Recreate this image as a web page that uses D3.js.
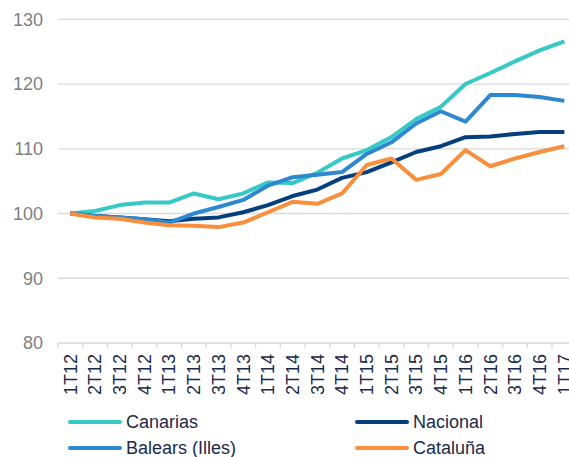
<!DOCTYPE html>
<html>
<head>
<meta charset="utf-8">
<script src="https://cdn.jsdelivr.net/npm/d3@7"></script>
<style>
  body { margin: 0; background: #fff; }
  svg { font-family: "Liberation Sans", Arial, sans-serif; display: block; }
</style>
</head>
<body>
<div id="chart"></div>
<script>
// quarters
var quarters = ["1T12", "2T12", "3T12", "4T12", "1T13", "2T13", "3T13", "4T13",
    "1T14", "2T14", "3T14", "4T14", "1T15", "2T15", "3T15", "4T15",
    "1T16", "2T16", "3T16", "4T16", "1T17"];

var canarias = [100, 100.4, 101.3, 101.7, 101.7, 103.1, 102.2, 103.1, 104.8, 104.7, 106.3,
    108.5, 109.8, 111.8, 114.6, 116.5, 120.0, 121.7, 123.5, 125.2, 126.6];
var nacional = [100, 99.6, 99.4, 99.1, 98.8, 99.2, 99.4, 100.2, 101.3, 102.7, 103.7,
    105.5, 106.4, 107.9, 109.5, 110.4, 111.8, 111.9, 112.3, 112.6, 112.6];
var baleares = [100, 99.6, 99.4, 99.1, 98.6, 100.0, 101.0, 102.1, 104.3, 105.6, 106.0,
    106.4, 109.2, 111.0, 113.9, 115.8, 114.2, 118.3, 118.3, 118.0, 117.4];
var cataluna = [100, 99.4, 99.2, 98.6, 98.2, 98.1, 97.9, 98.6, 100.2, 101.8, 101.5,
    103.1, 107.5, 108.5, 105.2, 106.1, 109.8, 107.3, 108.5, 109.5, 110.4];

var yTicks = [80, 90, 100, 110, 120, 130];

var series = [
    { name: "Canarias", values: canarias, color: "#36c9c6" },
    { name: "Nacional", values: nacional, color: "#063f7e" },
    { name: "Balears (Illes)", values: baleares, color: "#2d88d0" },
    { name: "Cataluña", values: cataluna, color: "#f98e3d" }
];

var width = 569, height = 457;
var left = 58;

var svg = d3.select("#chart").append("svg")
    .attr("width", width)
    .attr("height", height);

// scales
var xScale = d3.scaleBand().domain(quarters).range([left, left + 24.7 * quarters.length]);
var yScale = d3.scaleLinear().domain([80, 130]).range([343, 19.3]);

// gridlines
svg.append("g").selectAll("line").data(yTicks).enter()
    .append("line")
    .attr("x1", left).attr("x2", width)
    .attr("y1", function (d) { return yScale(d); })
    .attr("y2", function (d) { return yScale(d); })
    .attr("stroke", "#d9d9d9")
    .attr("stroke-width", 1.3);

// y labels
svg.append("g").selectAll("text").data(yTicks).enter()
    .append("text")
    .attr("x", 43)
    .attr("y", function (d) { return yScale(d); })
    .attr("dy", "0.35em")
    .attr("text-anchor", "end")
    .attr("font-size", 18)
    .attr("fill", "#7f7f7f")
    .text(function (d) { return d; });

// x axis tick marks between categories
var bounds = quarters.map(function (q) { return xScale(q); });
bounds.push(xScale(quarters[quarters.length - 1]) + xScale.bandwidth());
svg.append("g")
    .attr("transform", "translate(0," + yScale(80) + ")")
    .selectAll("line").data(bounds).enter()
    .append("line")
    .attr("x1", function (d) { return d; })
    .attr("x2", function (d) { return d; })
    .attr("y1", 0).attr("y2", 5)
    .attr("stroke", "#d9d9d9")
    .attr("stroke-width", 1.3);

// x labels
svg.append("g").selectAll("text").data(quarters).enter()
    .append("text")
    .attr("transform", function (d) {
        return "translate(" + (xScale(d) + xScale.bandwidth() / 2) + ",354) rotate(-90)";
    })
    .attr("text-anchor", "end")
    .attr("dy", "0.35em")
    .attr("font-size", 18)
    .attr("fill", "#1b2a4a")
    .text(function (d) { return d; });

// lines
var line = d3.line()
    .x(function (d, i) { return xScale(quarters[i]) + xScale.bandwidth() / 2; })
    .y(function (d) { return yScale(d); });

svg.append("g").selectAll("path").data(series).enter()
    .append("path")
    .attr("d", function (s) { return line(s.values); })
    .attr("fill", "none")
    .attr("stroke", function (s) { return s.color; })
    .attr("stroke-width", 4)
    .attr("stroke-linejoin", "round");

// legend
var legendPos = [[68, 422], [355, 422], [68, 448], [355, 448]];
var legend = svg.append("g").selectAll("g").data(series).enter()
    .append("g")
    .attr("transform", function (s, i) { return "translate(" + legendPos[i][0] + "," + legendPos[i][1] + ")"; });

legend.append("line")
    .attr("x1", 2).attr("x2", 52)
    .attr("stroke", function (s) { return s.color; })
    .attr("stroke-width", 4)
    .attr("stroke-linecap", "round");

legend.append("text")
    .attr("x", 58)
    .attr("dy", "0.35em")
    .attr("font-size", 18)
    .attr("fill", "#1b2a4a")
    .text(function (s) { return s.name; });
</script>
</body>
</html>
